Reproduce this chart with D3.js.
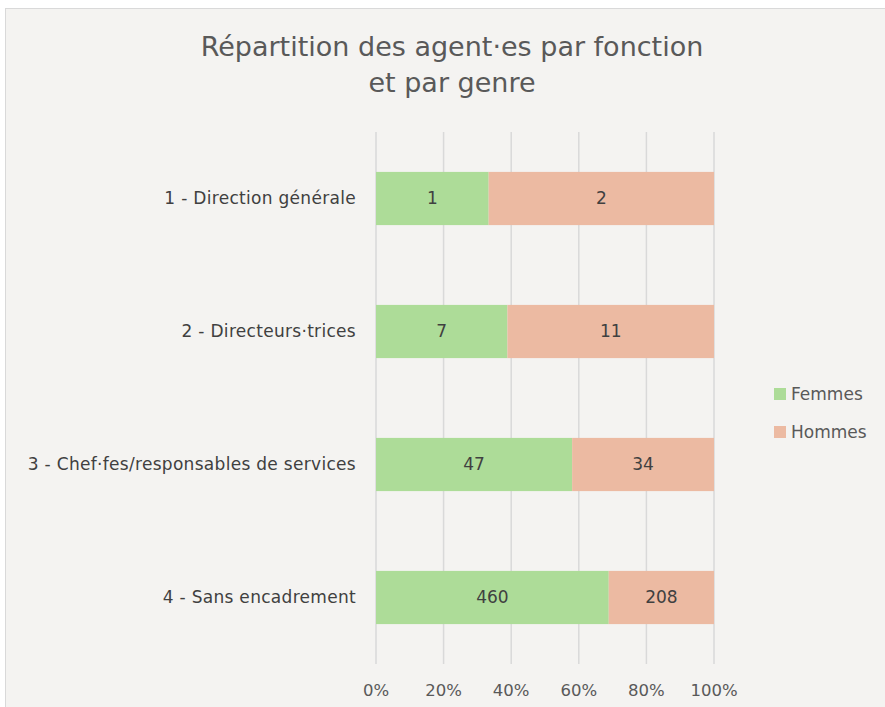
<!DOCTYPE html>
<html>
<head>
<meta charset="utf-8">
<script src="https://d3js.org/d3.v7.min.js"></script>
<style>
body { margin: 0; padding: 0; background: #ffffff; }
svg text { font-family: "DejaVu Sans", "Liberation Sans", sans-serif; }
</style>
</head>
<body>
<svg id="chart" width="885" height="707"></svg>
<script>
// data
var categories = ['1 - Direction générale', '2 - Directeurs·trices',
  '3 - Chef·fes/responsables de services', '4 - Sans encadrement'];
var femmes = [1, 7, 47, 460];
var hommes = [2, 11, 34, 208];
var seriesNames = ['Femmes', 'Hommes'];
var tickValues = [0, 0.2, 0.4, 0.6, 0.8, 1];

var colors = ['#addc98', '#ecbaa2'];

var svg = d3.select('#chart');

// chart frame
svg.append('rect')
  .attr('x', 5.5).attr('y', 8.5)
  .attr('width', 885).attr('height', 707)
  .attr('fill', '#f4f3f1')
  .attr('stroke', '#d9d9d9');

var margin = {top: 132, left: 376},
    width = 338,
    height = 532;

var g = svg.append('g').attr('transform', 'translate(' + margin.left + ',' + margin.top + ')');

var x = d3.scaleLinear().domain([0, 1]).range([0, width]);
var y = d3.scaleBand().domain(categories).range([0, height]).paddingInner(0.6).paddingOuter(0.3);

// title
['Répartition des agent·es par fonction', 'et par genre'].forEach(function(t, i) {
  svg.append('text')
    .attr('x', 452).attr('y', 56 + i * 36)
    .attr('text-anchor', 'middle')
    .attr('fill', '#595959')
    .style('font-size', '27px')
    .text(t);
});

// gridlines
g.selectAll('line.grid')
  .data(tickValues)
  .enter().append('line')
  .attr('class', 'grid')
  .attr('x1', function(d) { return x(d); })
  .attr('x2', function(d) { return x(d); })
  .attr('y1', 0).attr('y2', height)
  .attr('stroke', '#d9d9d9')
  .attr('stroke-width', 1.5);

// x axis labels
g.selectAll('text.tick')
  .data(tickValues)
  .enter().append('text')
  .attr('class', 'tick')
  .attr('x', function(d) { return x(d); })
  .attr('y', height + 32)
  .attr('text-anchor', 'middle')
  .attr('fill', '#595959')
  .style('font-size', '16.5px')
  .text(function(d) { return d3.format('.0%')(d); });

// category labels
g.selectAll('text.cat')
  .data(categories)
  .enter().append('text')
  .attr('class', 'cat')
  .attr('x', -20)
  .attr('y', function(d) { return y(d) + y.bandwidth() / 2; })
  .attr('dy', '0.35em')
  .attr('text-anchor', 'end')
  .attr('fill', '#404040')
  .style('font-size', '17px')
  .style('letter-spacing', '0.3px')
  .text(function(d) { return d; });

// stacked bars
var rows = categories.map(function(c, i) {
  return {cat: c, vals: [femmes[i], hommes[i]], total: femmes[i] + hommes[i]};
});

rows.forEach(function(r) {
  var acc = 0;
  r.vals.forEach(function(v, j) {
    var x0 = acc / r.total, x1 = (acc + v) / r.total;
    acc += v;
    g.append('rect')
      .attr('x', x(x0))
      .attr('y', y(r.cat))
      .attr('width', x(x1) - x(x0))
      .attr('height', y.bandwidth())
      .attr('fill', colors[j]);
    g.append('text')
      .attr('x', (x(x0) + x(x1)) / 2)
      .attr('y', y(r.cat) + y.bandwidth() / 2)
      .attr('dy', '0.35em')
      .attr('text-anchor', 'middle')
      .attr('fill', '#404040')
      .style('font-size', '17px')
      .text(v);
  });
});

// legend
var legend = svg.append('g').attr('transform', 'translate(774,388)');
seriesNames.forEach(function(s, i) {
  legend.append('rect')
    .attr('x', 0).attr('y', i * 38)
    .attr('width', 12).attr('height', 12)
    .attr('fill', colors[i]);
  legend.append('text')
    .attr('x', 17).attr('y', i * 38 + 6)
    .attr('dy', '0.35em')
    .attr('fill', '#595959')
    .style('font-size', '17px')
    .text(s);
});
</script>
</body>
</html>
